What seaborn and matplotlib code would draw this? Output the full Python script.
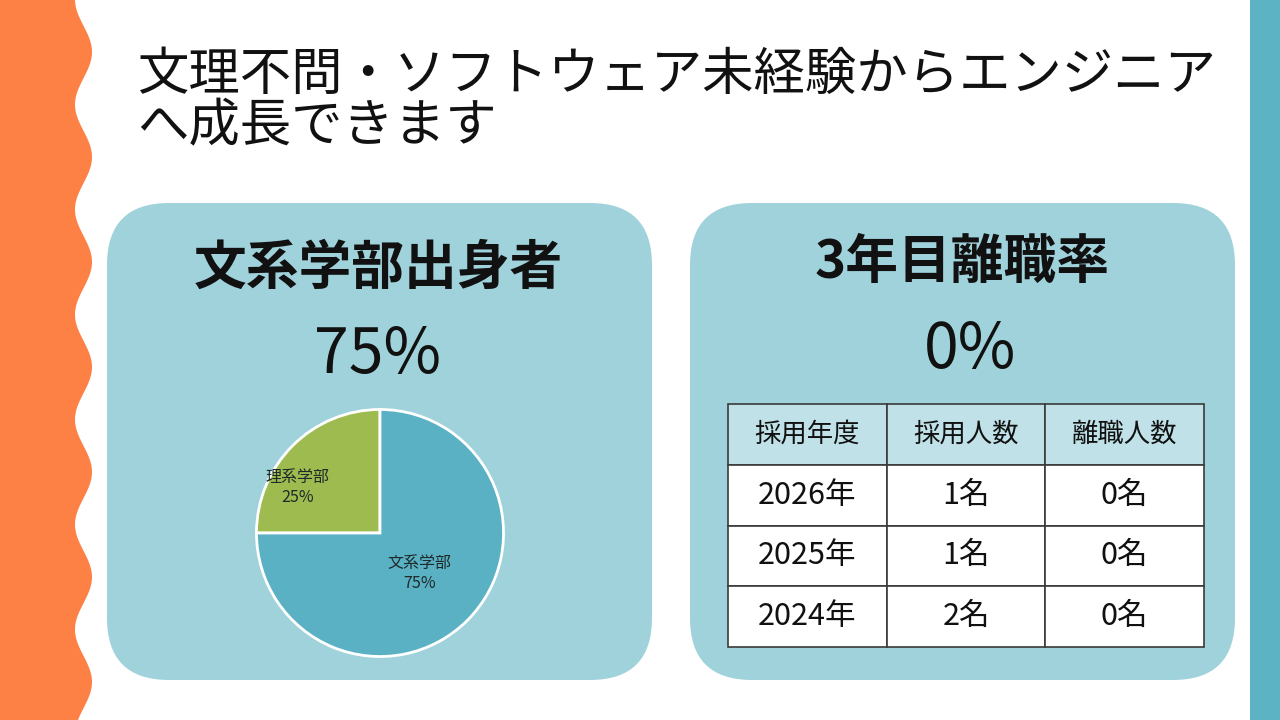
import numpy as np
import seaborn as sns
import matplotlib.pyplot as plt
from matplotlib.patches import FancyBboxPatch, Rectangle

# --- data ---
title_lines = ["文理不問・ソフトウェア未経験からエンジニア", "へ成長できます"]
pie_title = "文系学部出身者"
pie_headline = "75%"
pie_labels = ["理系学部", "文系学部"]
pie_values = [25, 75]
pie_colors = ["#9dbb4e", "#5ab1c4"]

table_title = "3年目離職率"
table_headline = "0%"
col_labels = ["採用年度", "採用人数", "離職人数"]
years = ["2026年", "2025年", "2024年"]
hired = ["1名", "1名", "2名"]
left_count = ["0名", "0名", "0名"]

sns.set_theme(style="white")
plt.rcParams['font.family'] = ['Noto Sans CJK JP', 'DejaVu Sans']

PANEL = "#a0d2db"
fig = plt.figure(figsize=(12.8, 7.2), dpi=100)
bg = fig.add_axes([0, 0, 1, 1])
bg.set_xlim(0, 1280)
bg.set_ylim(720, 0)
bg.axis('off')

# wavy orange strip on the left
yy = np.linspace(0, 720, 800)
edge = 83.5 + 8.5 * np.cos(2 * np.pi * (yy - 52) / 105)
bg.fill_betweenx(yy, 0, edge, color="#fd8144", lw=0)
# teal strip on the right
bg.add_patch(Rectangle((1250, 0), 30, 720, color="#5bb3c4", lw=0))

# rounded panels
for x0 in (107, 690):
    bg.add_patch(FancyBboxPatch((x0, 203), 545, 477,
                                boxstyle="round,pad=0,rounding_size=62",
                                fc=PANEL, ec="none"))

# title
bg.text(137, 75, title_lines[0], fontsize=37, va='center', ha='left', color="#111111")
bg.text(137, 127, title_lines[1], fontsize=37, va='center', ha='left', color="#111111")

# panel headings
bg.text(378, 268, pie_title, fontsize=38, fontweight='bold', ha='center', va='center', color="#111111")
bg.text(378, 355, pie_headline, fontsize=45, ha='center', va='center', color="#111111")
bg.text(962, 262, table_title, fontsize=38, fontweight='bold', ha='center', va='center', color="#111111")
bg.text(970, 350, table_headline, fontsize=45, ha='center', va='center', color="#111111")

# pie
cx, cy, r = 380, 533, 126
pax = fig.add_axes([(cx - r) / 1280, (720 - cy - r) / 720, 2 * r / 1280, 2 * r / 720])
wedges, texts = pax.pie(pie_values, colors=pie_colors, startangle=90, counterclock=True,
                        wedgeprops=dict(edgecolor='white', linewidth=2))
label_pos = [(-0.67, 0.37), (0.32, -0.33)]
for lab, val, (lx, ly) in zip(pie_labels, pie_values, label_pos):
    pax.text(lx, ly, f"{lab}\n{val}%", ha='center', va='center', fontsize=11.5,
             color="#1e2a2a", linespacing=1.2)
pax.set_xlim(-1.02, 1.02)
pax.set_ylim(-1.02, 1.02)
pax.set_aspect('equal')
pax.axis('off')

# table
tx0, ty0, tx1, ty1 = 728, 404, 1204, 647
tax = fig.add_axes([tx0 / 1280, (720 - ty1) / 720, (tx1 - tx0) / 1280, (ty1 - ty0) / 720])
tax.axis('off')
cells = [list(row) for row in zip(years, hired, left_count)]
tbl = tax.table(cellText=cells, colLabels=col_labels, cellLoc='center', bbox=[0, 0, 1, 1])
tbl.auto_set_font_size(False)
for (row, col), cell in tbl.get_celld().items():
    cell.set_edgecolor("#3a3a3a")
    cell.set_linewidth(1.2)
    if row == 0:
        cell.set_facecolor("#bfe1e7")
        cell.get_text().set_fontsize(19)
    else:
        cell.set_facecolor("white")
        cell.get_text().set_fontsize(22)
    cell.get_text().set_color("#111111")

fig.savefig("out.png", dpi=100)
